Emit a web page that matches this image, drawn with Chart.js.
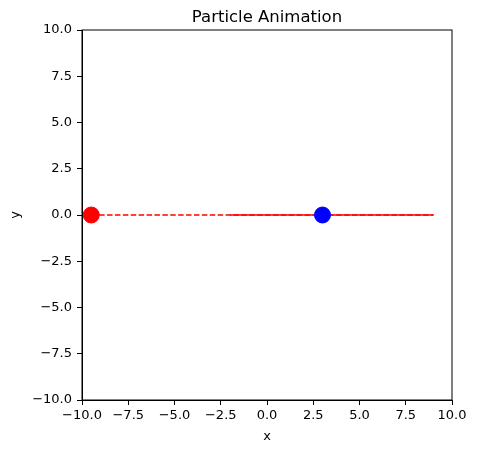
<!DOCTYPE html>
<html>
<head>
<meta charset="utf-8">
<script src="https://cdn.jsdelivr.net/npm/chart.js@4"></script>
<style>
  html, body { margin: 0; padding: 0; background: #fff; }
  canvas { display: block; }
</style>
</head>
<body>
<canvas id="particleChart" width="477" height="453"></canvas>
<script>
// particle positions and trails
const redParticle = [{ x: -9.5, y: 0 }];
const blueParticle = [{ x: 3, y: 0 }];
const dashedTrail = [{ x: -9.5, y: 0 }, { x: 9, y: 0 }];
const solidTrail = [{ x: -2, y: 0 }, { x: 9, y: 0 }];
const axisMin = -10;
const axisMax = 10;
const tickStep = 2.5;

const fontFamily = '"DejaVu Sans", sans-serif';

function fmtTick(value) {
    const s = value.toFixed(1);
    return value < 0 ? '\u2212' + s.slice(1) : s;
}

// draws the frame box and the title over the plot area
const framePlugin = {
    id: 'frame',
    afterDraw(chart) {
        const { ctx, chartArea: a } = chart;
        ctx.save();
        ctx.strokeStyle = '#000';
        ctx.lineWidth = 1;
        ctx.strokeRect(a.left, a.top, a.right - a.left, a.bottom - a.top);
        ctx.fillStyle = '#000';
        ctx.font = '16.5px ' + fontFamily;
        ctx.textAlign = 'center';
        ctx.textBaseline = 'alphabetic';
        ctx.fillText('Particle Animation', (a.left + a.right) / 2, 22);
        ctx.restore();
    }
};

window.onload = (event) => {
    const ctx = document.getElementById('particleChart').getContext('2d');
    const chart = new Chart(ctx, {
        type: 'scatter',
        data: {
            datasets: [
                {
                    label: 'Particle 1',
                    data: redParticle,
                    backgroundColor: 'rgb(255, 0, 0)',
                    borderColor: 'rgb(255, 0, 0)',
                    pointRadius: 8,
                    order: 1
                },
                {
                    label: 'Particle 2',
                    data: blueParticle,
                    backgroundColor: 'rgb(0, 0, 255)',
                    borderColor: 'rgb(0, 0, 255)',
                    pointRadius: 8,
                    order: 2
                },
                {
                    label: 'Trail',
                    data: solidTrail,
                    showLine: true,
                    borderColor: 'rgb(255, 0, 0)',
                    borderWidth: 1.5,
                    pointRadius: 0,
                    order: 3
                },
                {
                    label: 'Path',
                    data: dashedTrail,
                    showLine: true,
                    borderColor: 'rgb(255, 0, 0)',
                    borderWidth: 1.5,
                    borderDash: [5.5, 2.4],
                    pointRadius: 0,
                    order: 4
                }
            ]
        },
        options: {
            responsive: false,
            animation: false,
            layout: { padding: { top: 30, right: 25, left: 0, bottom: 0 } },
            plugins: {
                legend: { display: false },
                tooltip: { enabled: false }
            },
            scales: {
                x: {
                    type: 'linear',
                    min: axisMin,
                    max: axisMax,
                    afterFit: (scale) => { scale.height = 53; },
                    grid: {
                        drawOnChartArea: false,
                        drawTicks: true,
                        tickLength: 5,
                        color: '#000'
                    },
                    border: { display: true, color: '#000' },
                    ticks: {
                        stepSize: tickStep,
                        color: '#000',
                        padding: 3,
                        maxRotation: 0,
                        font: { family: fontFamily, size: 13 },
                        callback: (value) => fmtTick(value)
                    },
                    title: {
                        display: true,
                        text: 'x',
                        color: '#000',
                        padding: { top: 0, bottom: 9 },
                        font: { family: fontFamily, size: 13 }
                    }
                },
                y: {
                    type: 'linear',
                    min: axisMin,
                    max: axisMax,
                    afterFit: (scale) => { scale.width = 82; },
                    grid: {
                        drawOnChartArea: false,
                        drawTicks: true,
                        tickLength: 5,
                        color: '#000'
                    },
                    border: { display: true, color: '#000' },
                    ticks: {
                        stepSize: tickStep,
                        color: '#000',
                        padding: 5,
                        font: { family: fontFamily, size: 13 },
                        callback: (value) => fmtTick(value)
                    },
                    title: {
                        display: true,
                        text: 'y',
                        color: '#000',
                        padding: { top: 8, bottom: 0 },
                        font: { family: fontFamily, size: 13 }
                    }
                }
            }
        },
        plugins: [framePlugin]
    });
};
</script>
</body>
</html>
